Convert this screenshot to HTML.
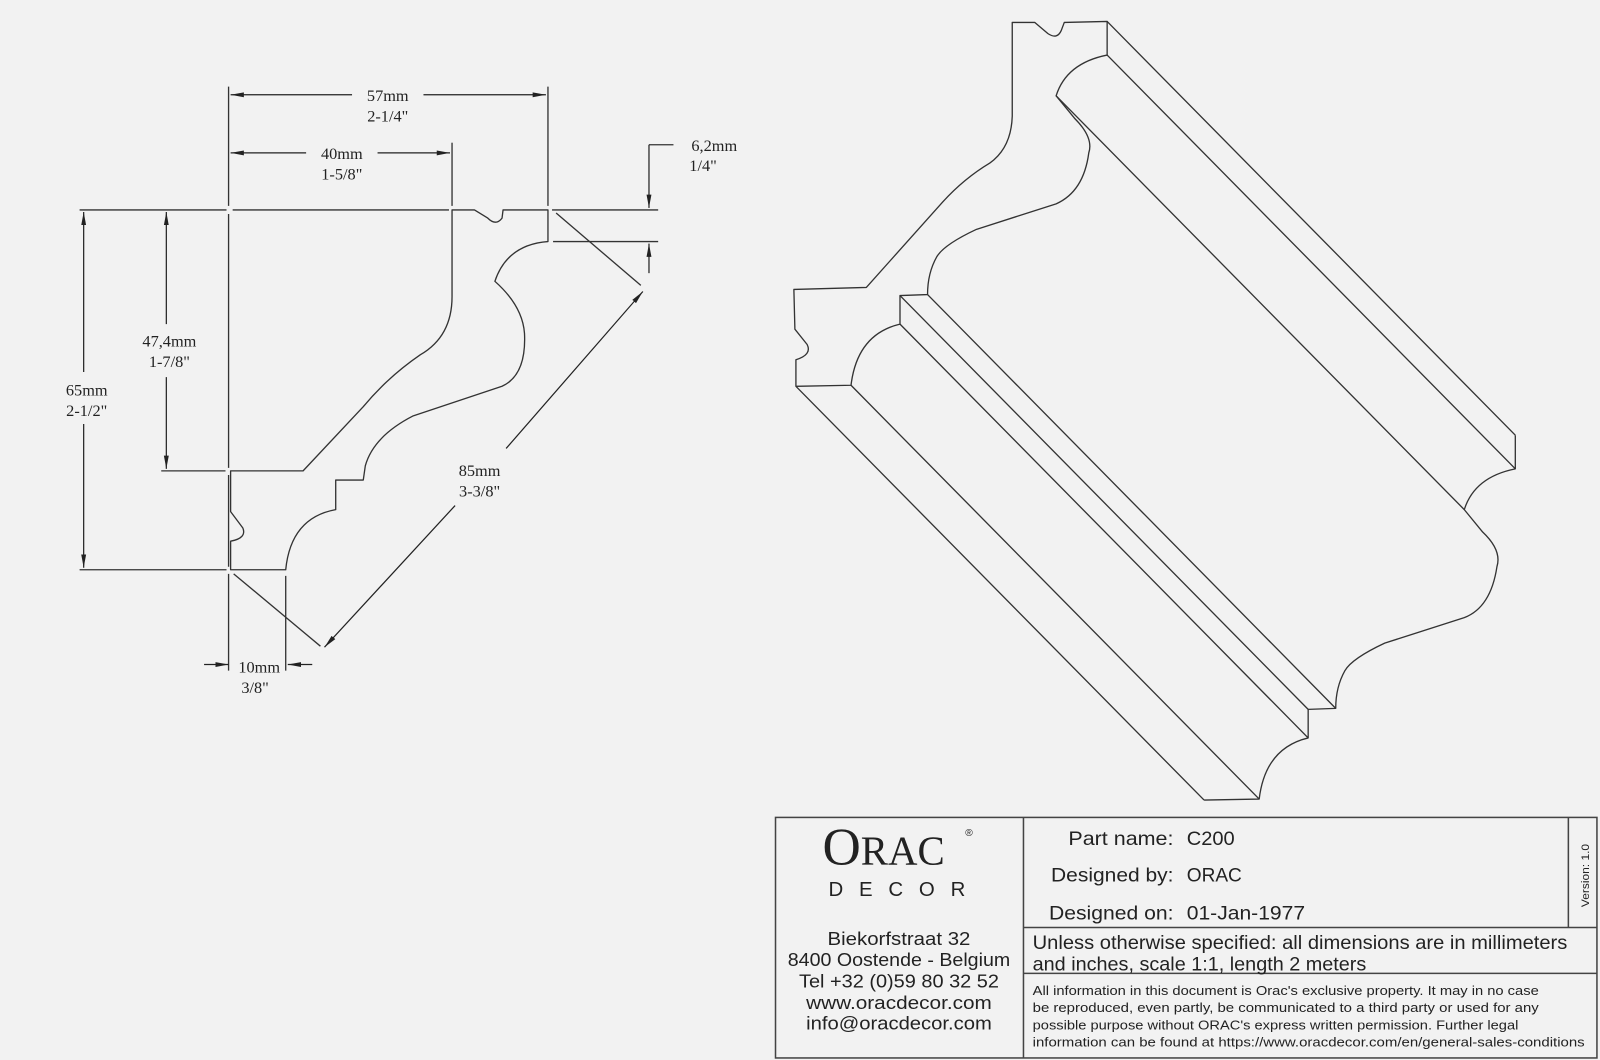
<!DOCTYPE html>
<html><head><meta charset="utf-8"><style>
html,body{margin:0;padding:0;background:#f2f2f2;}
svg{display:block;}
</style></head><body>
<svg width="1600" height="1060" viewBox="0 0 1568 1040" preserveAspectRatio="none" xmlns="http://www.w3.org/2000/svg">
<defs>
<marker id="a" markerWidth="14" markerHeight="6" refX="13" refY="3" orient="auto" markerUnits="userSpaceOnUse">
<path d="M0,0.6 L13,3 L0,5.4 Z" fill="#222"/>
</marker>
</defs>
<rect width="1568" height="1040" fill="#f2f2f2"/>
<g fill="none" stroke="#333" stroke-width="1.3" stroke-linejoin="round">
<!-- left profile -->
<path d="M443,206 L465,206 L478,214 Q486,222 492,214 L493,206 L537,206 L537,237 Q497,240 485,276 Q512,300 514,327 Q516,368 492,379 L405,408 Q366,428 358,457 L356,471 L329,471 L329,500 Q285,508 280,559 L226,559 L226,531 Q242,528 238,518 L226,502 L226,462 L297,462 L356,399 Q380,370 412,348 Q443,330 443,291 Z"/>
<!-- extension lines -->
<path d="M78,206 L222,206 M228,206 L440,206 M541,206 L645,206"/>
<path d="M224,85 L224,202 M224,210 L224,459 M224,466 L224,556 M224,563 L224,658"/>
<path d="M443,140 L443,202"/>
<path d="M537,85 L537,202"/>
<path d="M542,237 L645,237"/>
<path d="M158,462 L221,462"/>
<path d="M78,559 L222,559"/>
<path d="M280,565 L280,658"/>
<path d="M545,209 L628,280"/>
<path d="M229,563 L314,634"/>
<!-- leader 6,2 -->
<path d="M636,142 L660,142"/>
</g>
<g fill="none" stroke="#222" stroke-width="1.2">
<!-- 57mm -->
<path d="M345,93 L226,93" marker-end="url(#a)"/>
<path d="M415,93 L535,93" marker-end="url(#a)"/>
<!-- 40mm -->
<path d="M300,150 L226,150" marker-end="url(#a)"/>
<path d="M370,150 L441,150" marker-end="url(#a)"/>
<!-- 6,2 -->
<path d="M636,142 L636,204" marker-end="url(#a)"/>
<path d="M636,268 L636,239" marker-end="url(#a)"/>
<!-- 47,4 -->
<path d="M163,318 L163,208" marker-end="url(#a)"/>
<path d="M163,370 L163,460" marker-end="url(#a)"/>
<!-- 65 -->
<path d="M82,365 L82,208" marker-end="url(#a)"/>
<path d="M82,416 L82,557" marker-end="url(#a)"/>
<!-- 85 -->
<path d="M496,440 L630,286" marker-end="url(#a)"/>
<path d="M446,496 L318,635" marker-end="url(#a)"/>
<!-- 10 -->
<path d="M200,652 L224,652" marker-end="url(#a)"/>
<path d="M306,652 L282,652" marker-end="url(#a)"/>
</g>
<g font-family="Liberation Serif, serif" font-size="16" fill="#222" text-anchor="middle">
<text x="380" y="99">57mm</text><text x="380" y="119">2-1/4"</text>
<text x="335" y="156">40mm</text><text x="335" y="176">1-5/8"</text>
<text x="700" y="148">6,2mm</text><text x="689" y="168">1/4"</text>
<text x="166" y="340">47,4mm</text><text x="166" y="360">1-7/8"</text>
<text x="85" y="388">65mm</text><text x="85" y="408">2-1/2"</text>
<text x="470" y="467">85mm</text><text x="470" y="487">3-3/8"</text>
<text x="254" y="660">10mm</text><text x="250" y="680">3/8"</text>
</g>
<!-- isometric -->
<g fill="none" stroke="#333" stroke-width="1.3" stroke-linejoin="round">
<path d="M992,22 L1014,22 L1027,33 Q1036,39 1040,30 L1043,22 L1085,21 L1085,54 Q1045,62 1035,94 L1053,116 Q1072,135 1067,150 Q1062,188 1035,200 L957,225 Q925,240 918,252 Q909,268 909,289 L882,290 L882,318 Q840,328 834,378 L780,379 L780,353 Q796,348 791,338 L779,323 L778,284 L849,282 L924,198 Q945,175 970,160 Q991,145 992,114 Z"/>
<path d="M1485,427 L1485,460 Q1445,468 1435,500 L1453,522 Q1472,540 1467,556 Q1461,596 1435,606 L1357,631 Q1325,646 1318,658 Q1309,674 1309,695 L1282,696 L1282,724 Q1240,734 1234,784 L1180,785"/>
<path d="M1085,21 L1485,427 M1085,54 L1485,460 M1035,94 L1435,500 M909,289 L1309,695 M882,290 L1282,696 M882,318 L1282,724 M834,378 L1234,784 M780,379 L1180,785"/>
</g>
<!-- title block -->
<g fill="none" stroke="#444" stroke-width="1.5">
<rect x="760" y="802" width="805" height="236"/>
<path d="M1003,802 L1003,1038 M1003,910 L1565,910 M1003,955 L1565,955 M1537,802 L1537,910"/>
</g>
<g fill="#222" font-family="Liberation Sans, sans-serif">
<text x="806" y="848" font-family="Liberation Serif, serif" font-size="52">O<tspan font-size="40">RAC</tspan></text>
<text x="946" y="820" font-size="10">®</text>
<text x="812" y="879" font-size="20" textLength="134" lengthAdjust="spacing">DECOR</text>
<g font-size="18" text-anchor="middle">
<text x="881" y="927" textLength="140" lengthAdjust="spacingAndGlyphs">Biekorfstraat 32</text>
<text x="881" y="948" textLength="218" lengthAdjust="spacingAndGlyphs">8400 Oostende - Belgium</text>
<text x="881" y="969" textLength="196" lengthAdjust="spacingAndGlyphs">Tel  +32 (0)59 80 32 52</text>
<text x="881" y="990" textLength="182" lengthAdjust="spacingAndGlyphs">www.oracdecor.com</text>
<text x="881" y="1010" textLength="182" lengthAdjust="spacingAndGlyphs">info@oracdecor.com</text>
</g>
<g font-size="19">
<text x="1150" y="829" text-anchor="end" textLength="103" lengthAdjust="spacingAndGlyphs">Part name:</text>
<text x="1163" y="829" textLength="47" lengthAdjust="spacingAndGlyphs">C200</text>
<text x="1150" y="865" text-anchor="end" textLength="120" lengthAdjust="spacingAndGlyphs">Designed by:</text>
<text x="1163" y="865" textLength="54" lengthAdjust="spacingAndGlyphs">ORAC</text>
<text x="1150" y="902" text-anchor="end" textLength="122" lengthAdjust="spacingAndGlyphs">Designed on:</text>
<text x="1163" y="902" textLength="116" lengthAdjust="spacingAndGlyphs">01-Jan-1977</text>
<text x="1012" y="931" textLength="524" lengthAdjust="spacingAndGlyphs">Unless otherwise specified: all dimensions are in millimeters</text>
<text x="1012" y="952" textLength="327" lengthAdjust="spacingAndGlyphs">and inches, scale 1:1, length 2 meters</text>
</g>
<g font-size="12.5">
<text x="1012" y="976" textLength="496" lengthAdjust="spacingAndGlyphs">All information in this document is Orac's exclusive property.  It may in no case</text>
<text x="1012" y="993" textLength="496" lengthAdjust="spacingAndGlyphs">be reproduced, even partly, be communicated to a third party or used for any</text>
<text x="1012" y="1010" textLength="476" lengthAdjust="spacingAndGlyphs">possible purpose without ORAC's express written permission. Further legal</text>
<text x="1012" y="1027" textLength="541" lengthAdjust="spacingAndGlyphs">information can be found at https://www.oracdecor.com/en/general-sales-conditions</text>
</g>
<text transform="translate(1557,890) rotate(-90)" font-size="11" textLength="62" lengthAdjust="spacingAndGlyphs">Version: 1.0</text>
</g>
</svg>
</body></html>
